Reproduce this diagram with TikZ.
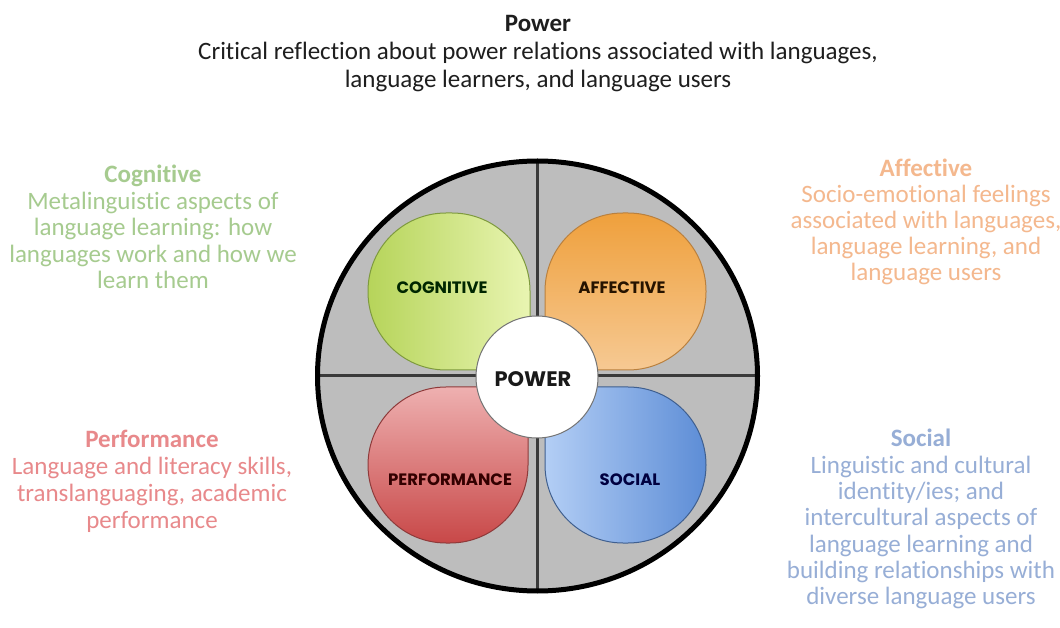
\documentclass[tikz,border=0pt]{standalone}
\usepackage{fontspec}
\setmainfont{Carlito}[Ligatures={CommonOff,ContextualOff}]
\newfontfamily\gothic{Poppins}
\definecolor{cogA}{HTML}{B6D45A}
\definecolor{cogB}{HTML}{E9F5B2}
\definecolor{cogE}{HTML}{7E9A3E}
\definecolor{affA}{HTML}{EFA03C}
\definecolor{affB}{HTML}{F6C993}
\definecolor{affE}{HTML}{B9803E}
\definecolor{perfA}{HTML}{EEB0B0}
\definecolor{perfB}{HTML}{C84848}
\definecolor{perfE}{HTML}{8E3A3A}
\definecolor{socA}{HTML}{B3CEF5}
\definecolor{socB}{HTML}{5D8DD6}
\definecolor{socE}{HTML}{3F5F8F}
\definecolor{disk}{HTML}{BDBDBD}
\definecolor{divider}{HTML}{3A3A3A}
\definecolor{cogT}{HTML}{A6CB8F}
\definecolor{affT}{HTML}{F4B88E}
\definecolor{perfT}{HTML}{E8898B}
\definecolor{socT}{HTML}{97AED6}
\definecolor{topT}{HTML}{1E1E1E}
% xl yb xr yt rBL rBR rTR rTL
\def\mypetal#1#2#3#4#5#6#7#8{({#1+#5},#2) -- ({#3-#6},#2) arc[start angle=-90,end angle=0,radius=#6pt] -- (#3,{#4-#7}) arc[start angle=0,end angle=90,radius=#7pt] -- ({#1+#8},#4) arc[start angle=90,end angle=180,radius=#8pt] -- (#1,{#2+#5}) arc[start angle=180,end angle=270,radius=#5pt] -- cycle}
\tikzset{
  sidetext/.style={anchor=base, inner sep=0pt, font=\fontsize{25}{27}\selectfont},
  petaltext/.style={inner sep=0pt, font=\gothic\bfseries\fontsize{16.5}{18}\selectfont},
  petaledge/.style={line width=1pt},
  divline/.style={draw=divider, line width=3pt}
}
\begin{document}
\begin{tikzpicture}[x=1pt,y=1pt]
\useasboundingbox (0,0) rectangle (1060,627);
\fill[white] (0,0) rectangle (1060,627);

% top text
\node[sidetext, text=topT, font=\bfseries\fontsize{25}{27}\selectfont] (pow0) at (538,595) {Power};
\node[sidetext, text=topT] (pow1) at (538,567) {Critical reflection about power relations associated with languages,};
\node[sidetext, text=topT] (pow2) at (538,539) {language learners, and language users};

% side texts
\node[sidetext, text=cogT, font=\bfseries\fontsize{25}{27}\selectfont] (cog0) at (153,444) {Cognitive};
\foreach [count=\i] \t in {Metalinguistic aspects of, {language learning: how}, languages work and how we, learn them}
  \node[sidetext, text=cogT] (cog\i) at (153,{444-\i*26.4}) {\t};

\node[sidetext, text=affT, font=\bfseries\fontsize{25}{27}\selectfont] (aff0) at (926,450) {Affective};
\foreach [count=\i] \t in {Socio-emotional feelings, {associated with languages,}, {language learning, and}, language users}
  \node[sidetext, text=affT] (aff\i) at (926,{450-\i*26}) {\t};

\node[sidetext, text=perfT, font=\bfseries\fontsize{25}{27}\selectfont] (perf0) at (152,179) {Performance};
\foreach [count=\i] \t in {{Language and literacy skills,}, {translanguaging, academic}, performance}
  \node[sidetext, text=perfT] (perf\i) at (152,{179-\i*26.7}) {\t};

\node[sidetext, text=socT, font=\bfseries\fontsize{25}{27}\selectfont] (soc0) at (921,180) {Social};
\foreach [count=\i] \t in {Linguistic and cultural, {identity/ies; and}, intercultural aspects of, language learning and, building relationships with, diverse language users}
  \node[sidetext, text=socT] (soc\i) at (921,{180-\i*26.3}) {\t};

% big disk
\coordinate (c) at (537.5,251);
\fill[disk] (c) ellipse[x radius=220pt, y radius=215pt];
\begin{scope}
  \clip (c) ellipse[x radius=220pt, y radius=215pt];
  \coordinate (vt) at (537,470);
  \coordinate (vb) at (537,30);
  \coordinate (hl) at (310,251);
  \coordinate (hr) at (765,251);
  \draw[divline] (vt) -- (vb);
  \draw[divline] (hl) -- (hr);
\end{scope}

% petals
\path[petaledge, draw=cogE, left color=cogA, right color=cogB] \mypetal{368}{257}{530}{414}{78}{14}{78}{78};
\path[petaledge, draw=affE, top color=affA, bottom color=affB] \mypetal{545}{257}{706}{414}{14}{78}{78}{78};
\path[petaledge, draw=perfE, top color=perfA, bottom color=perfB] \mypetal{368}{84}{528}{240}{78}{78}{14}{78};
\path[petaledge, draw=socE, left color=socA, right color=socB] \mypetal{545}{84}{706}{240}{78}{78}{78}{14};

\node[petaltext, text=black!85!green] (lcog) at (442,339) {COGNITIVE};
\node[petaltext, text=black!85!orange] (laff) at (622,339) {AFFECTIVE};
\node[petaltext, text=black!80!red] (lperf) at (450,147) {PERFORMANCE};
\node[petaltext, text=black!75!blue] (lsoc) at (630,147) {SOCIAL};

% center
\node[circle, draw=black!55, line width=1pt, fill=white, minimum size=122pt, inner sep=0pt] (core) at (537,250) {};
\node[inner sep=0pt, font=\gothic\bfseries\fontsize{21}{23}\selectfont, text=black!90] (lpow) at (533,248) {POWER};

% rim
\draw[black, line width=5pt] (c) ellipse[x radius=220pt, y radius=215pt];
\end{tikzpicture}
\end{document}
